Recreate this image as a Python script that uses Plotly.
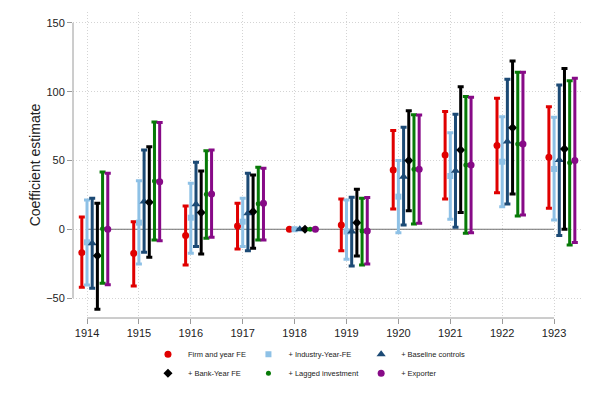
import numpy as np
import plotly.graph_objects as go

# Data
years = [1914, 1915, 1916, 1917, 1918, 1919, 1920, 1921, 1922, 1923]

firm_est = [-17.0, -17.5, -4.6, 2.4, 0, 3.1, 43.1, 54.0, 60.8, 52.3]
firm_lo = [-42.2, -41.2, -25.9, -14.3, 0, -15.6, 14.8, 22.0, 26.6, 15.2]
firm_hi = [8.9, 5.5, 16.9, 18.9, 0, 22.0, 71.7, 85.5, 95.2, 89.1]

industry_est = [-9.5, 4.8, 8.4, 5.5, 0, -1.7, 23.7, 38.7, 49.1, 43.8]
industry_lo = [-40.5, -25.2, -17.5, -12.6, 0, -21.8, -2.5, 7.3, 16.4, 6.7]
industry_hi = [21.3, 35.3, 33.4, 22.5, 0, 21.3, 49.9, 70.2, 81.8, 81.4]

baseline_est = [-10.2, 20.1, 18.2, 11.6, 0, -1.7, 38.2, 42.6, 63.7, 50.4]
baseline_lo = [-42.9, -16.7, -12.6, -15.6, 0, -26.7, 3.1, 1.5, 18.4, -4.6]
baseline_hi = [22.5, 57.6, 48.7, 40.7, 0, 23.3, 74.1, 83.5, 109.0, 104.9]

bank_est = [-19.2, 19.6, 12.1, 12.8, 0, 4.8, 49.9, 57.6, 73.8, 58.4]
bank_lo = [-58.1, -20.3, -18.0, -13.8, 0, -19.4, 13.5, 12.1, 25.7, 0.0]
bank_hi = [18.9, 60.0, 42.4, 39.5, 0, 29.1, 86.2, 103.6, 122.3, 116.9]

lagged_est = [0.3, 35.0, 25.4, 18.5, 0, -1.2, 43.6, 46.7, 62.0, 48.4]
lagged_lo = [-39.2, -7.8, -6.5, -7.8, 0, -25.9, 3.9, -2.9, 9.7, -11.4]
lagged_hi = [41.6, 78.0, 57.1, 45.0, 0, 22.5, 83.3, 96.4, 114.1, 108.0]

exporter_est = [0, 34.6, 25.7, 18.9, 0, -1.2, 43.6, 46.7, 62.0, 49.9]
exporter_lo = [-40.4, -8.3, -5.8, -7.8, 0, -25.2, 4.4, -2.5, 10.4, -9.7]
exporter_hi = [40.7, 77.5, 57.6, 44.3, 0, 23.0, 83.1, 95.9, 114.1, 109.7]

# name, est, lo, hi, color, symbol, size, x offset, legend
series = [
    ("Firm and year FE", firm_est, firm_lo, firm_hi, "#e00000", "circle", 7, -0.1, "legend"),
    ("+ Industry-Year-FE", industry_est, industry_lo, industry_hi, "#8ec1e6", "square", 6, 0.0, "legend2"),
    ("+ Baseline controls", baseline_est, baseline_lo, baseline_hi, "#1c4a75", "triangle-up", 8, 0.1, "legend3"),
    ("+ Bank-Year FE", bank_est, bank_lo, bank_hi, "black", "diamond", 7, 0.2, "legend"),
    ("+ Lagged investment", lagged_est, lagged_lo, lagged_hi, "#077a07", "circle", 5, 0.3, "legend2"),
    ("+ Exporter", exporter_est, exporter_lo, exporter_hi, "#870a87", "circle", 7, 0.4, "legend3"),
]

fig = go.Figure()
for name, est, lo, hi, color, symbol, size, off, leg in series:
    est = np.array(est)
    fig.add_trace(go.Scatter(
        x=np.array(years) + off,
        y=est,
        mode="markers",
        name=name,
        legend=leg,
        marker=dict(color=color, symbol=symbol, size=size),
        error_y=dict(type="data", symmetric=False,
                     array=np.array(hi) - est, arrayminus=est - np.array(lo),
                     color=color, thickness=3, width=3),
    ))

grid = "#d4d4d4"
axis_col = "#9a9a9a"

# Stata-style axis lines and zero line
fig.add_shape(type="line", xref="paper", yref="y", x0=0, x1=0, y0=-50, y1=150,
              line=dict(color=axis_col, width=1))
fig.add_shape(type="line", xref="x", yref="paper", x0=1914, x1=1923, y0=0, y1=0,
              line=dict(color=axis_col, width=1))
fig.add_shape(type="line", xref="x", yref="y", x0=1914, x1=1923, y0=0, y1=0,
              line=dict(color="#707070", width=1), layer="between")

legend_common = dict(orientation="v", xanchor="left", yanchor="top",
                     font=dict(family="Liberation Sans, Arial", size=7.5, color="#222"),
                     bgcolor="rgba(0,0,0,0)", itemsizing="trace", tracegroupgap=0)

# page body has an 8px margin, so the figure is sized to fit inside the window
fig.update_layout(
    width=582, height=383,
    margin=dict(l=65, r=7, t=4, b=73, autoexpand=False),
    plot_bgcolor="white", paper_bgcolor="white",
    font=dict(family="Liberation Sans, Arial", color="#222"),
    xaxis=dict(range=[1913.73, 1923.557], tickvals=years, ticktext=[str(y) for y in years],
               showgrid=True, gridcolor=grid, griddash="1px,2px", gridwidth=1,
               zeroline=False, showline=False, ticks="outside", ticklen=5,
               tickcolor=axis_col, tickfont=dict(size=11)),
    yaxis=dict(range=[-64.5, 157.9], tickvals=[-50, 0, 50, 100, 150],
               showgrid=True, gridcolor=grid, griddash="1px,2px", gridwidth=1,
               zeroline=False, showline=False, ticks="outside", ticklen=5,
               tickcolor=axis_col, tickfont=dict(size=11),
               title=dict(text="Coefficient estimate", font=dict(size=14), standoff=2)),
    legend=dict(x=0.147, y=-0.071, **legend_common),
    legend2=dict(x=0.344, y=-0.071, **legend_common),
    legend3=dict(x=0.565, y=-0.071, **legend_common),
)

fig.write_html("out.html")
